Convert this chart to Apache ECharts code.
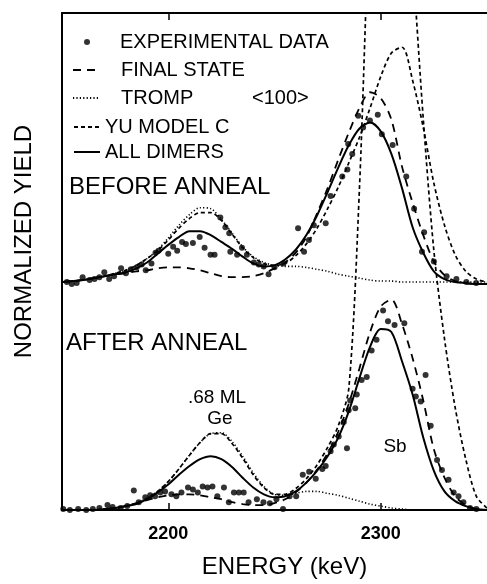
<!DOCTYPE html>
<html><head><meta charset="utf-8">
<script src="https://cdn.jsdelivr.net/npm/echarts@6/dist/echarts.min.js"></script>
<style>html,body{margin:0;padding:0;background:#fff}#c{width:487px;height:584px}</style>
</head><body><div id="c"></div>
<script>
// ---------- data (heights, arbitrary yield units) ----------
const tickValues = [2200, 2300];
const beforeOffset = 231; // vertical offset of the "before anneal" spectra
const energies = [2150,2155,2160,2165,2170,2175,2180,2185,2190,2195,2200,2205,2210,2215,2220,2225,2230,2235,2240,2245,2250,2255,2260,2265,2270,2275,2280,2285,2290,2295,2300,2305,2310,2315,2320,2325,2330,2335,2340,2345,2350];

const allDimersBefore = [2,3,4,6,8,10,12,16,22,31, 40,48,54,54,50,43,36,28,21,18, 19,25,35,50,70,94,119,142,159,165, 156,133,98,58,32,13,5,2,1,0, 0];
const finalStateBefore = [2,3,4,6,8,10,11,13,14,16, 17,17,16,14,11,8,7,7,8,11, 16,22,32,48,72,98,127,155,180,196, 190,168,120,83,50,23,9,3,1,0, 0];
const trompBefore = [2,3,4,6,8,11,14,19,26,35, 47,60,71,78,77,66,52,38,28,22, 19,18,18,17,15,13,10,8,6,4, 3,3,2,2,2,2,2,2,2,2, 2];
const yuBefore = [2,3,4,6,8,11,14,19,26,34, 45,57,67,73,73,65,51,37,27,21, 19,21,29,41,57,77,99,124,150,180, 212,236,242,208,160,103,60,30,13,5, 2];

const allDimersAfter = [0,0,0,0,1,2,4,6,11,18, 26,36,45,52,55,52,44,33,23,16, 13,14,19,28,40,55,74,101,135,167, 185,182,152,118,74,40,19,9,4,1, 0];
const finalStateAfter = [0,0,0,0,1,2,4,7,10,13, 15,16,16,15,13,11,8,6,5,5, 7,11,18,28,41,58,80,109,145,182, 208,215,190,155,112,62,33,14,5,1, 0];
const trompAfter = [0,0,0,0,1,2,4,7,12,19, 29,42,56,69,78,79,70,55,38,24, 16,15,17,19,19,17,15,12,9,6, 4,2,1,0,0,0,0,0,0,0, 0];
const yuAfter = [0,0,0,0,1,2,4,7,12,19, 29,42,56,69,78,78,68,53,36,23, 16,16,22,32,46,64,86,125,330,620, 760,760,700,560,400,265,175,105,52,14, 2];

const expBeforeE = [2152.3,2154.6,2156.9,2159.7,2163.0,2165.3,2167.6,2169.9,2172.2,2174.5,2177.8,2180.1,2182.4,2185.2,2187.5,2189.4,2192.1,2194.0,2195.4,2200.0,2202.3,2204.2,2206.5,2208.3,2211.6,2214.8,2217.1,2219.9,2221.8,2224.5,2226.9,2228.7,2229.2,2232.4,2234.7,2237.0,2240.3,2242.6,2244.9,2247.2,2250.0,2254.2,2261.1,2263.9,2266.2,2268.5,2274.1,2276.4,2281.9,2284.3,2286.6,2284.7,2289.4,2291.7,2294.9,2298.6,2300.5,2305.6,2312.0,2315.7,2320.4,2319.4,2325.0,2331.0,2335.6,2340.3,2344.9];
const expBeforeH = [2,0,1,7,4,5,7,12,5,8,16,11,15,17,20,14,21,32,34,31,38,34,43,41,42,48,37,30,30,68,58,52,33,30,37,30,22,20,18,10,17,21,57,33,45,60,62,90,110,117,133,143,172,160,167,173,153,142,110,77,53,33,23,8,5,2,1];
const expAfterE = [2150.6,2153.7,2157.6,2161.4,2164.5,2167.6,2171.4,2173.8,2177.6,2180.7,2183.8,2186.1,2189.2,2191.5,2193.8,2196.2,2198.5,2201.5,2203.8,2206.2,2209.3,2211.6,2213.9,2216.2,2218.5,2220.8,2223.1,2226.2,2228.5,2230.9,2233.2,2235.5,2237.8,2241.7,2244.8,2247.8,2250.9,2254.0,2257.1,2260.2,2263.3,2266.3,2269.4,2272.5,2274.1,2276.4,2277.9,2280.2,2282.6,2284.1,2284.9,2285.6,2288.0,2288.7,2291.0,2293.4,2295.7,2298.0,2301.1,2303.4,2306.5,2311.1,2315.0,2316.5,2318.8,2321.1,2323.5,2326.5,2328.8,2331.9,2334.3,2336.6,2338.9,2342.0,2345.0];
const expAfterH = [1,0,1,0,1,2,5,3,2,4,20,8,13,15,14,18,19,16,14,18,23,21,18,24,23,24,14,23,8,18,18,18,8,11,8,7,11,1,14,14,36,39,32,42,45,60,67,75,90,63,102,112,104,118,133,136,163,174,204,193,189,191,124,116,111,138,86,51,41,31,18,14,8,2,1];

// ---------- chart ----------
const FONT = '"Liberation Sans", Arial, sans-serif';
const chart = echarts.init(document.getElementById('c'), null, {renderer: 'canvas'});
const curve = (ys, off) => energies.map((e, i) => [e, ys[i] + off]);
const pts = (es, hs, off) => es.map((e, i) => [e, hs[i] + off]);
const LONG = [8, 6], DOT = [1.2, 2.2], SHORT = [4, 3];
function lineS(name, ys, off, type, width) {
  return {type: 'line', name, data: curve(ys, off), symbol: 'none', smooth: 0.3, clip: true,
    lineStyle: {color: '#000', width, type}, itemStyle: {color: '#000'}, silent: true};
}
function scatS(es, hs, off) {
  return {type: 'scatter', name: 'EXPERIMENTAL DATA', data: pts(es, hs, off), symbol: 'circle', symbolSize: 6,
    itemStyle: {color: '#000'}, silent: true, z: 5};
}
const legText = (pad) => ({fontFamily: FONT, fontSize: 20, color: '#000', lineHeight: 20, padding: [0, 0, 0, pad]});
const txt = (t, x, y, size, align) => ({type: 'text', x, y, silent: true,
  style: {text: t, font: size + 'px ' + FONT, fill: '#000', align: align || 'left', verticalAlign: 'middle'}});

chart.setOption({
  animation: false,
  backgroundColor: '#fff',
  grid: {left: 62, top: 13, width: 432, height: 508},
  xAxis: [{
    type: 'value', position: 'bottom', min: 2150, max: 2350,
    axisLine: {show: true, onZero: false, lineStyle: {color: '#000', width: 2}},
    axisTick: {show: true, inside: true, length: 7, customValues: tickValues, lineStyle: {color: '#000', width: 1.5}},
    axisLabel: {show: true, customValues: tickValues, margin: 15, color: '#000', fontFamily: FONT, fontWeight: 'bold', fontSize: 18,
      formatter: v => String(v)},
    splitLine: {show: false},
    name: 'ENERGY (keV)', nameLocation: 'middle', nameGap: 45,
    nameTextStyle: {fontFamily: FONT, fontSize: 24, color: '#000', padding: [0, 0, 0, 20]}
  }, {
    type: 'value', position: 'top', min: 2150, max: 2350,
    axisLine: {show: true, onZero: false, lineStyle: {color: '#000', width: 2}},
    axisTick: {show: true, inside: true, length: 7, customValues: tickValues, lineStyle: {color: '#000', width: 1.5}},
    axisLabel: {show: false}, splitLine: {show: false}
  }],
  yAxis: {
    type: 'value', min: 0, max: 508,
    axisLine: {show: true, lineStyle: {color: '#000', width: 2}},
    axisTick: {show: false}, axisLabel: {show: false}, splitLine: {show: false},
    name: 'NORMALIZED YIELD', nameLocation: 'middle', nameGap: 26,
    nameTextStyle: {fontFamily: FONT, fontSize: 24, color: '#000', padding: [0, 0, 0, 40]}
  },
  legend: [
    {data: ['EXPERIMENTAL DATA'], left: 84, top: 32, padding: 0, orient: 'vertical', itemWidth: 6, itemHeight: 6,
     selectedMode: false, textStyle: legText(25)},
    {data: ['FINAL STATE', 'TROMP'], left: 72, top: 60, padding: 0, orient: 'vertical', itemWidth: 26, itemHeight: 2, itemGap: 8,
     selectedMode: false, itemStyle: {opacity: 0}, textStyle: legText(17)},
    {data: ['YU MODEL C', 'ALL DIMERS'], left: 73, top: 117, padding: 0, orient: 'vertical', itemWidth: 26, itemHeight: 2, itemGap: 5,
     selectedMode: false, itemStyle: {opacity: 0}, textStyle: legText(0)}
  ],
  graphic: [
    txt('<100>', 252, 98, 20),
    txt('BEFORE ANNEAL', 69, 187, 24),
    txt('AFTER ANNEAL', 66, 343, 24),
    txt('.68 ML', 217, 398, 19, 'center'),
    txt('Ge', 220, 419, 19, 'center'),
    txt('Sb', 395, 447, 19, 'center')
  ],
  series: [
    lineS('FINAL STATE', finalStateBefore, beforeOffset, LONG, 1.8),
    lineS('TROMP', trompBefore, beforeOffset, DOT, 1.6),
    lineS('YU MODEL C', yuBefore, beforeOffset, SHORT, 1.7),
    lineS('ALL DIMERS', allDimersBefore, beforeOffset, 'solid', 2),
    lineS('FINAL STATE', finalStateAfter, 0, LONG, 1.8),
    lineS('TROMP', trompAfter, 0, DOT, 1.6),
    lineS('YU MODEL C', yuAfter, 0, SHORT, 1.7),
    lineS('ALL DIMERS', allDimersAfter, 0, 'solid', 2),
    scatS(expBeforeE, expBeforeH, beforeOffset),
    scatS(expAfterE, expAfterH, 0)
  ]
});
</script></body></html>
